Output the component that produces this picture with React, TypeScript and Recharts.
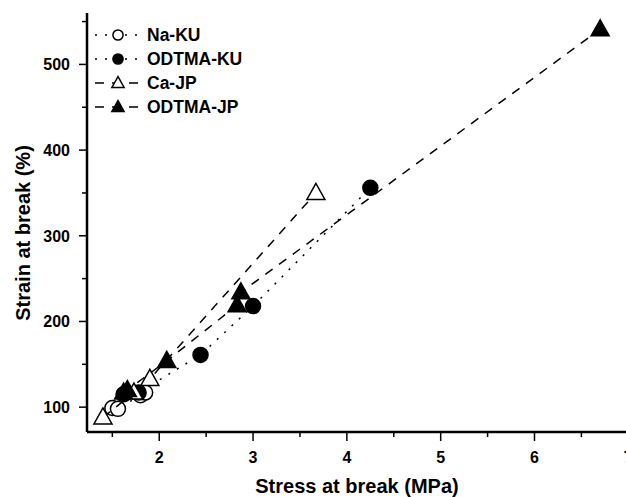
import * as React from "react"
import { ScatterChart, Scatter, XAxis, YAxis } from "recharts"

// values (stress MPa, strain %)
const naKu = [
  { x: 1.5, y: 99 },
  { x: 1.56, y: 98 },
  { x: 1.8, y: 114 },
  { x: 1.85, y: 117 },
]
const odtmaKu = [
  { x: 1.62, y: 115 },
  { x: 1.78, y: 117 },
  { x: 2.44, y: 161 },
  { x: 3.0, y: 218 },
  { x: 4.25, y: 356 },
]
const caJp = [
  { x: 1.4, y: 88 },
  { x: 1.73, y: 117 },
  { x: 1.9, y: 133 },
  { x: 3.67, y: 350 },
]
const odtmaJp = [
  { x: 1.62, y: 117 },
  { x: 1.66, y: 120 },
  { x: 2.08, y: 154 },
  { x: 2.83, y: 219 },
  { x: 2.87, y: 234 },
  { x: 6.7, y: 541 },
]

const xTicks = [1.5, 2, 2.5, 3, 3.5, 4, 4.5, 5, 5.5, 6, 6.5, 7]
const yTicks = [100, 150, 200, 250, 300, 350, 400, 450, 500, 550]
const xDomain = [1.23, 7.05]
const yDomain = [71, 560]

const FONT = '"Liberation Sans", Arial, Helvetica, sans-serif'
const DOTTED = "2 8"
const DASHED = "9 8"

type Kind = "openCircle" | "filledCircle" | "openTriangle" | "filledTriangle"

function Marker({ cx, cy, kind, s = 1 }: { cx: number; cy: number; kind: Kind; s?: number }) {
  const fill = kind.startsWith("filled") ? "#000" : "#fff"
  if (kind.endsWith("Circle")) {
    return <circle cx={cx} cy={cy} r={7.5 * s} fill={fill} stroke="#000" strokeWidth={1.5} />
  }
  const pts = `${cx},${cy - 9.5 * s} ${cx - 9 * s},${cy + 6.5 * s} ${cx + 9 * s},${cy + 6.5 * s}`
  return <polygon points={pts} fill={fill} stroke="#000" strokeWidth={1.5} strokeLinejoin="miter" />
}

const series = [
  { name: "Na-KU", data: naKu, kind: "openCircle" as Kind, dash: DOTTED },
  { name: "ODTMA-KU", data: odtmaKu, kind: "filledCircle" as Kind, dash: DOTTED },
  { name: "Ca-JP", data: caJp, kind: "openTriangle" as Kind, dash: DASHED },
  { name: "ODTMA-JP", data: odtmaJp, kind: "filledTriangle" as Kind, dash: DASHED },
]

const XTick = ({ x, y, payload }: any) => {
  const major = Number.isInteger(payload.value)
  return (
    <g>
      <line x1={x} x2={x} y1={y} y2={y + (major ? 9 : 5)} stroke="#000" strokeWidth={1.5} />
      {major && (
        <text x={x} y={y + 31} textAnchor="middle" fontFamily={FONT} fontWeight="bold" fontSize={16} fill="#000">
          {payload.value}
        </text>
      )}
    </g>
  )
}

const YTick = ({ x, y, payload }: any) => {
  const major = payload.value % 100 === 0
  return (
    <g>
      <line x1={x} x2={x - (major ? 8 : 5)} y1={y} y2={y} stroke="#000" strokeWidth={1.5} />
      {major && (
        <text x={x - 17} y={y + 6} textAnchor="end" fontFamily={FONT} fontWeight="bold" fontSize={16} fill="#000">
          {payload.value}
        </text>
      )}
    </g>
  )
}

function LegendBox() {
  return (
    <g>
      {series.map((s, i) => {
        const y = 35 + i * 24
        return (
          <g key={s.name}>
            <line x1={95} x2={142} y1={y} y2={y} stroke="#000" strokeWidth={1.5} strokeDasharray={s.dash} />
            <Marker cx={118} cy={y} kind={s.kind} s={0.68} />
            <text x={147} y={y + 6} fontFamily={FONT} fontWeight="bold" fontSize={17.5} fill="#000">
              {s.name}
            </text>
          </g>
        )
      })}
    </g>
  )
}

export default function App() {
  return (
    <div style={{ position: "absolute", left: 0, top: 0, width: 626, height: 497, overflow: "hidden", background: "#fff" }}>
      <ScatterChart width={645} height={497} margin={{ top: 13, right: 12, bottom: 0, left: 0 }}>
        <XAxis
          dataKey="x"
          type="number"
          domain={xDomain}
          allowDataOverflow
          ticks={xTicks}
          interval={0}
          tick={<XTick />}
          tickLine={false}
          tickSize={0}
          tickMargin={0}
          height={65}
          axisLine={{ stroke: "#000", strokeWidth: 2.5 }}
        />
        <XAxis
          xAxisId="top"
          orientation="top"
          type="number"
          domain={xDomain}
          allowDataOverflow
          tick={false}
          tickLine={false}
          height={0}
          axisLine={{ stroke: "#000", strokeWidth: 2.5 }}
        />
        <YAxis
          dataKey="y"
          type="number"
          domain={yDomain}
          allowDataOverflow
          ticks={yTicks}
          interval={0}
          tick={<YTick />}
          tickLine={false}
          tickSize={0}
          tickMargin={0}
          width={87}
          axisLine={{ stroke: "#000", strokeWidth: 2.5 }}
        />
        <YAxis
          yAxisId="right"
          orientation="right"
          type="number"
          domain={yDomain}
          allowDataOverflow
          tick={false}
          tickLine={false}
          width={0}
          axisLine={{ stroke: "#000", strokeWidth: 2.5 }}
        />
        {series.map((s) => (
          <Scatter
            key={s.name}
            name={s.name}
            data={s.data}
            isAnimationActive={false}
            line={{ stroke: "#000", strokeWidth: 1.5, strokeDasharray: s.dash, fill: "none" }}
            lineType="joint"
            shape={(p: any) => <Marker cx={p.cx} cy={p.cy} kind={s.kind} />}
          />
        ))}
        <LegendBox />
        <text x={357} y={493} textAnchor="middle" fontFamily={FONT} fontWeight="bold" fontSize={20} fill="#000">
          Stress at break (MPa)
        </text>
        <text
          x={23}
          y={233}
          transform="rotate(-90, 23, 233)"
          textAnchor="middle"
          dominantBaseline="central"
          fontFamily={FONT}
          fontWeight="bold"
          fontSize={20}
          fill="#000"
        >
          Strain at break (%)
        </text>
      </ScatterChart>
    </div>
  )
}
